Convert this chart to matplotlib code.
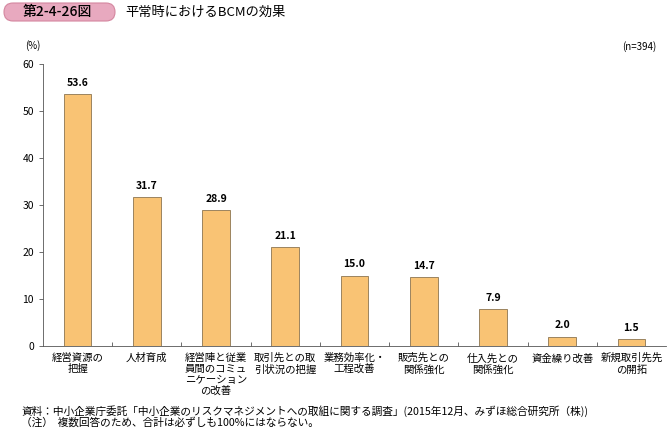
import matplotlib
matplotlib.use("Agg")
import matplotlib.pyplot as plt
from matplotlib.patches import FancyBboxPatch

plt.rcParams['font.family'] = ['Noto Sans CJK JP', 'DejaVu Sans']

categories = ["経営資源の\n把握", "人材育成", "経営陣と従業\n員間のコミュ\nニケーション\nの改善",
              "取引先との取\n引状況の把握", "業務効率化・\n工程改善", "販売先との\n関係強化",
              "仕入先との\n関係強化", "資金繰り改善", "新規取引先先\nの開拓"]
values = [53.6, 31.7, 28.9, 21.1, 15.0, 14.7, 7.9, 2.0, 1.5]
yticks = [0, 10, 20, 30, 40, 50, 60]

W, H = 667, 429
fig = plt.figure(figsize=(W / 100, H / 100), dpi=100)
ax = fig.add_axes([43 / W, 1 - 346 / H, 623 / W, 282 / H])

x = list(range(len(values)))
ax.bar(x, values, width=0.4, color="#F9C374", edgecolor="#8C7550", linewidth=0.6)
for xi, v in zip(x, values):
    ax.text(xi, v + 1.3, f"{v:.1f}", ha="center", va="bottom", fontsize=7.5, fontweight="bold")

ax.set_xlim(-0.5, len(values) - 0.5)
ax.set_ylim(0, 60)
ax.set_yticks(yticks)
ax.tick_params(axis="y", labelsize=7.5, length=3, width=0.6, color="#555555")
ax.set_xticks([i + 0.5 for i in x[:-1]])
ax.set_xticklabels([])
ax.tick_params(axis="x", direction="in", length=3, width=0.6, color="#555555")
for s in ["top", "right"]:
    ax.spines[s].set_visible(False)
for s in ["left", "bottom"]:
    ax.spines[s].set_linewidth(0.6)
    ax.spines[s].set_color("#555555")

for xi, lab in zip(x, categories):
    ax.text(xi, -1.5, lab, ha="center", va="top", fontsize=7.5, linespacing=1.15)

fig.text(33 / W, 1 - 46 / H, "(%)", ha="center", va="center", fontsize=7)
fig.text(656 / W, 1 - 47 / H, "(n=394)", ha="right", va="center", fontsize=7)

box = FancyBboxPatch((4, H - 21), 111, 18, boxstyle="round,pad=0,rounding_size=9",
                     transform=None, facecolor="#E8A9BF", edgecolor="#D4869F", linewidth=0.8)
fig.patches.append(box)
fig.text(57 / W, 1 - 12 / H, "第2-4-26図", ha="center", va="center", fontsize=10,
         fontweight="medium")
fig.text(125 / W, 1 - 12 / H, "平常時におけるBCMの効果", ha="left", va="center", fontsize=9.5)

fig.text(21 / W, 1 - 411 / H,
         "資料：中小企業庁委託「中小企業のリスクマネジメントへの取組に関する調査」(2015年12月、みずほ総合研究所（株))",
         ha="left", va="center", fontsize=7.7)
fig.text(21 / W, 1 - 422 / H, "（注）  複数回答のため、合計は必ずしも100%にはならない。",
         ha="left", va="center", fontsize=7.7)

fig.savefig("out.png", dpi=100)
